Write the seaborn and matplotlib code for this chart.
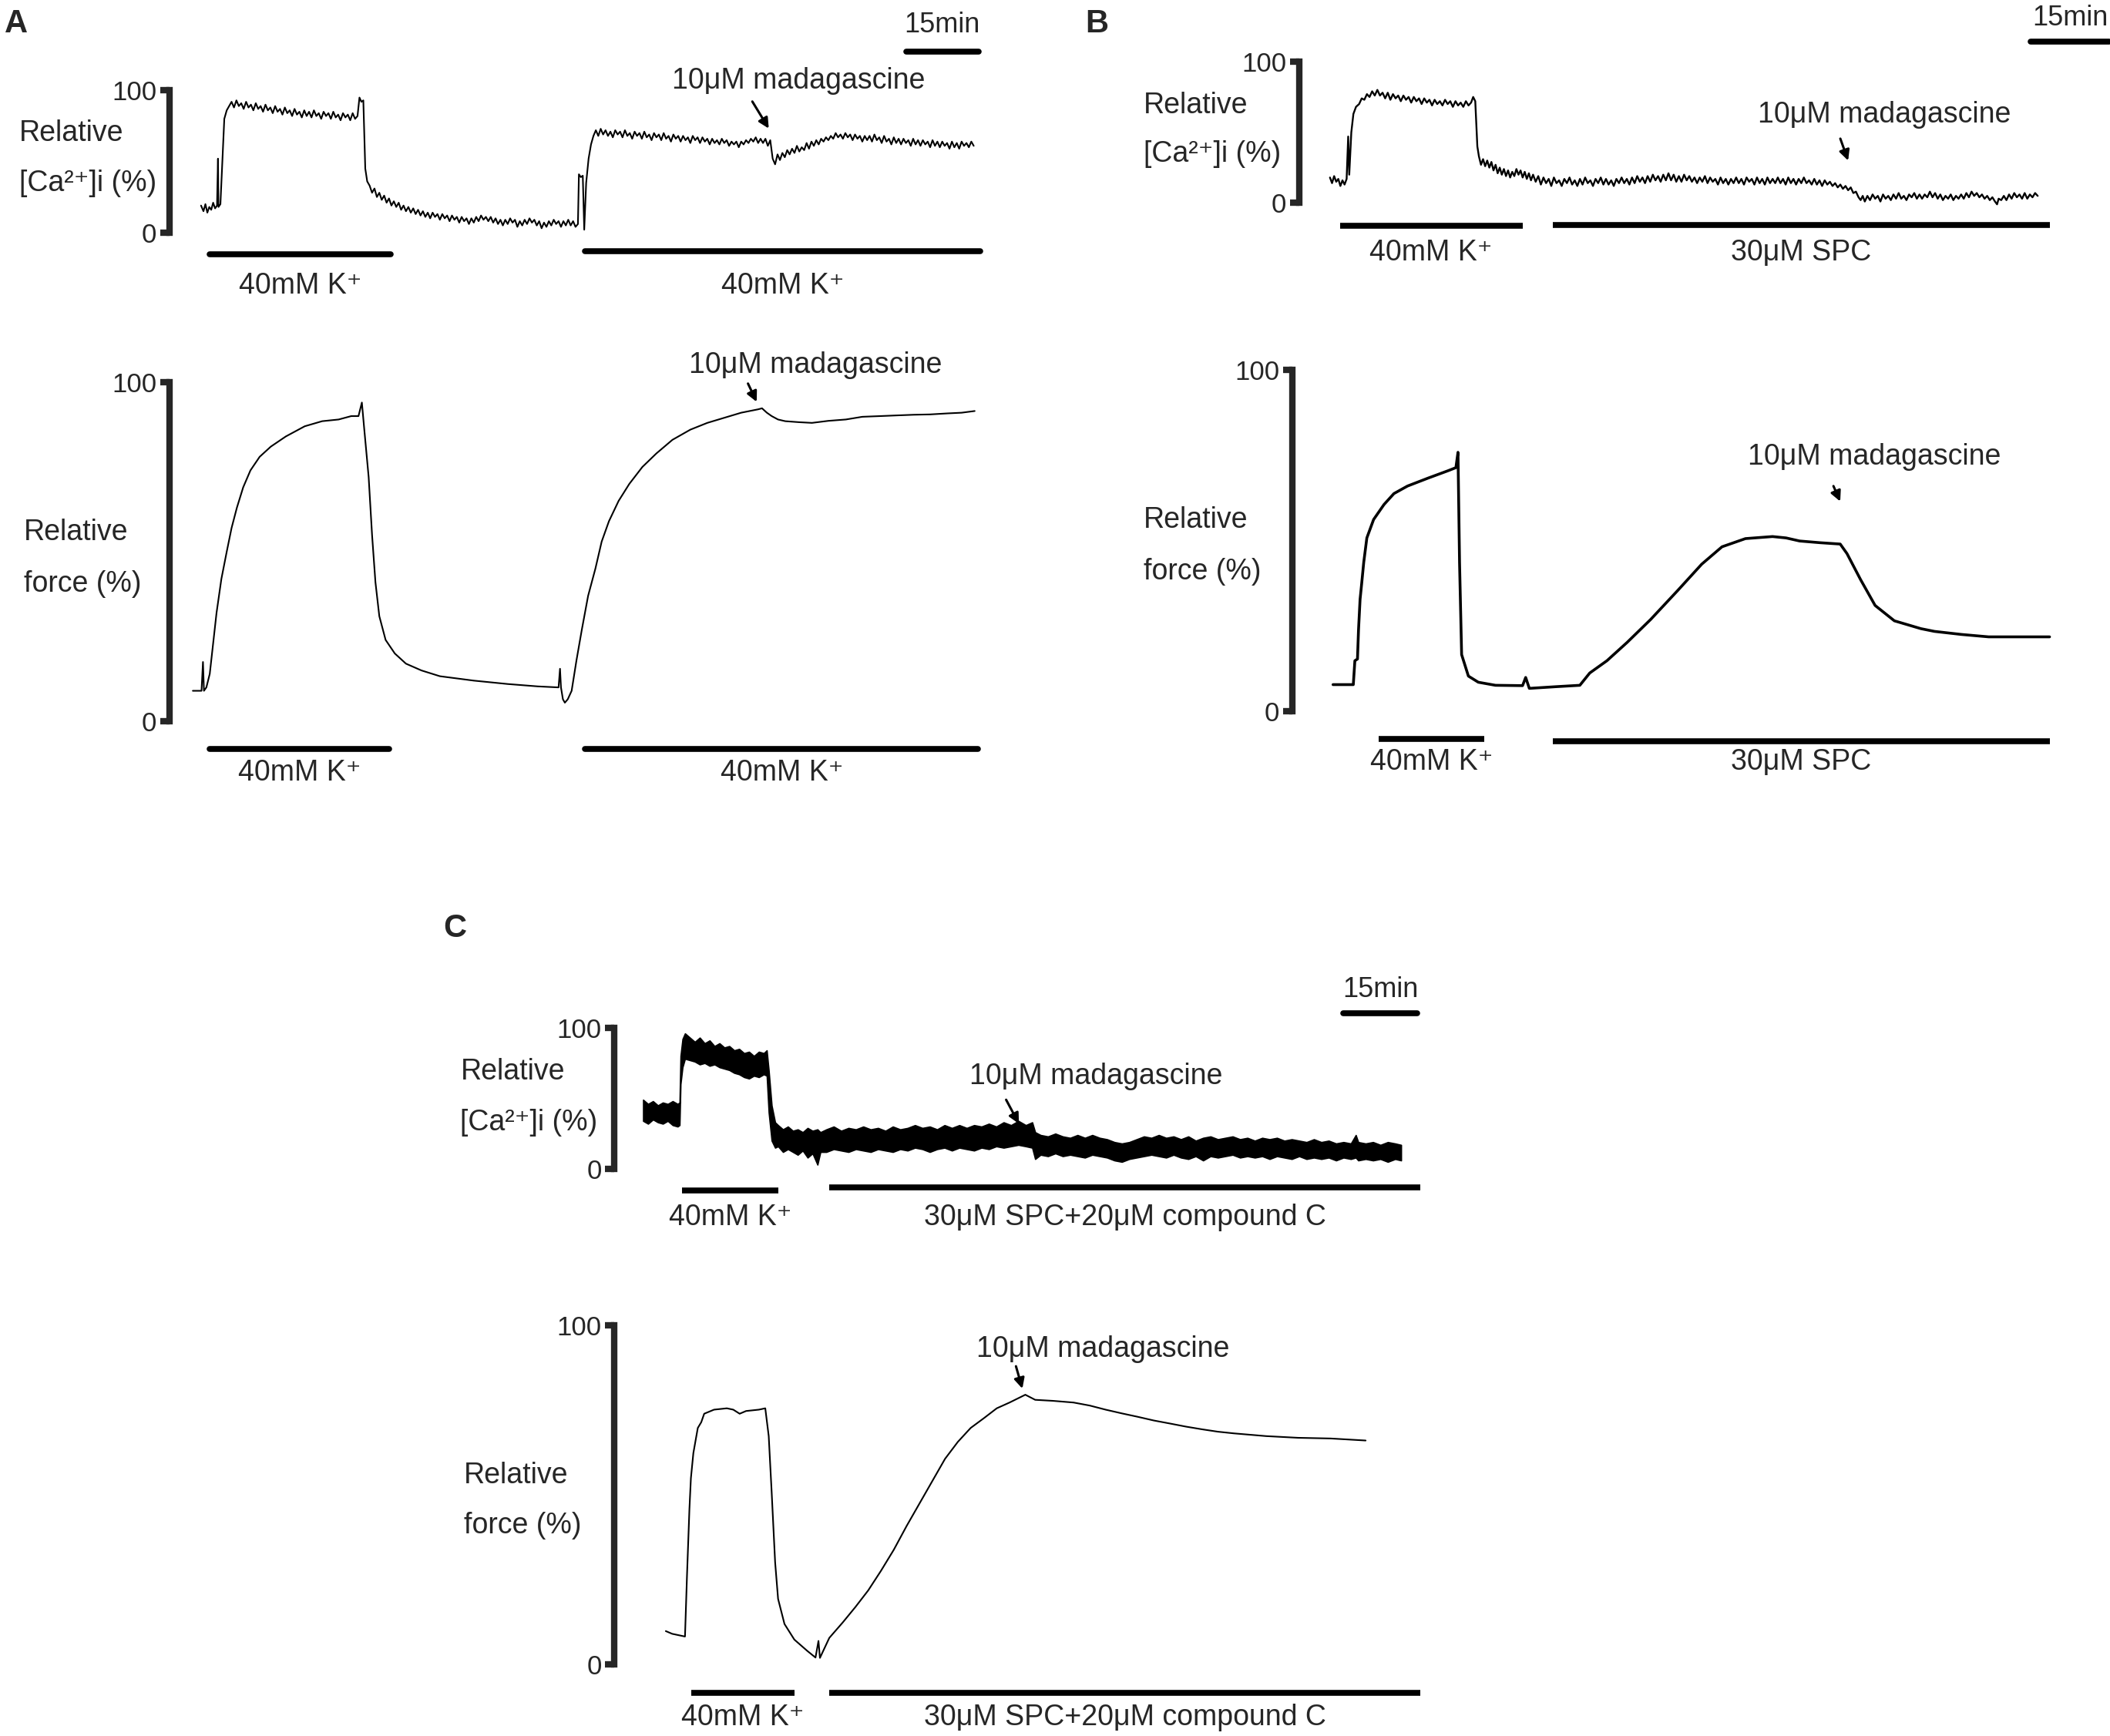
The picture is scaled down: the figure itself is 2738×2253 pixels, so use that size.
import numpy as np
import matplotlib
matplotlib.use("Agg")
import matplotlib.pyplot as plt
import seaborn as sns

sns.set_style("white")
plt.rcParams["font.family"] = ["Liberation Sans", "DejaVu Sans"]

# ==========================================
# data: (time in min, relative value in %)
# ==========================================
a_ca = [(6.5, 19), (7.0, 15), (7.4, 20), (7.8, 14), (8.2, 18), (8.6, 16), (9.0, 21), (9.4, 17), (9.8, 19),
        (10.0, 52), (10.1, 18), (10.5, 20), (10.9, 50), (11.3, 80), (11.8, 86), (12.3, 89), (12.8, 92),
        (13.3, 88), (13.8, 93), (14.3, 89), (14.8, 91), (15.3, 87), (15.8, 92), (16.3, 88), (16.8, 90),
        (17.3, 86), (17.8, 91), (18.3, 87), (18.8, 89), (19.3, 85), (19.8, 90), (20.3, 86), (20.8, 88),
        (21.3, 84), (21.8, 89), (22.3, 85), (22.8, 87), (23.3, 83), (23.8, 88), (24.3, 84), (24.8, 86),
        (25.3, 82), (25.8, 87), (26.3, 83), (26.8, 85), (27.3, 81), (27.8, 86), (28.3, 82), (28.8, 85),
        (29.3, 81), (29.8, 86), (30.3, 82), (30.8, 84), (31.3, 80), (31.8, 85), (32.3, 82), (32.8, 84),
        (33.3, 80), (33.8, 85), (34.3, 81), (34.8, 83), (35.3, 79), (35.8, 84), (36.3, 81), (36.8, 83),
        (37.3, 79), (37.8, 84), (38.3, 80), (38.8, 82), (39.2, 95), (39.6, 92), (40.0, 93),
        (40.4, 45), (40.8, 36), (41.3, 33), (41.8, 28), (42.3, 31), (42.8, 25), (43.3, 28), (43.8, 23),
        (44.3, 26), (44.8, 21), (45.3, 24), (45.8, 19), (46.3, 22), (46.8, 18), (47.3, 21), (47.8, 16),
        (48.3, 19), (48.8, 15), (49.3, 18), (49.8, 14), (50.3, 17), (50.8, 13), (51.3, 16), (51.8, 12),
        (52.3, 15), (52.8, 11), (53.3, 14), (53.8, 10), (54.3, 14), (54.8, 11), (55.3, 13), (55.8, 9),
        (56.3, 13), (56.8, 10), (57.3, 12), (57.8, 8), (58.3, 12), (58.8, 9), (59.3, 11), (59.8, 7),
        (60.3, 11), (60.8, 8), (61.3, 10), (61.8, 6), (62.3, 10), (62.8, 7), (63.3, 11), (63.8, 8),
        (64.3, 12), (64.8, 9), (65.3, 11), (65.8, 8), (66.3, 11), (66.8, 7), (67.3, 10), (67.8, 6),
        (68.3, 9), (68.8, 5), (69.3, 9), (69.8, 6), (70.3, 10), (70.8, 7), (71.3, 9), (71.8, 4),
        (72.3, 8), (72.8, 5), (73.3, 9), (73.8, 6), (74.3, 10), (74.8, 7), (75.3, 9), (75.8, 5),
        (76.3, 8), (76.8, 3), (77.3, 7), (77.8, 4), (78.3, 8), (78.8, 5), (79.3, 9), (79.8, 6),
        (80.3, 8), (80.8, 4), (81.3, 8), (81.8, 5), (82.3, 9), (82.8, 5), (83.3, 8), (83.8, 4),
        (84.3, 6), (84.5, 41), (84.9, 39), (85.3, 40), (85.6, 2), (86.0, 35), (86.5, 52), (87.0, 62),
        (87.5, 68), (88.0, 72), (88.5, 68), (89.0, 73), (89.5, 69), (90.0, 72), (90.5, 68), (91.0, 71),
        (91.5, 67), (92.0, 72), (92.5, 69), (93.0, 71), (93.5, 67), (94.0, 72), (94.5, 68), (95.0, 70),
        (95.5, 66), (96.0, 71), (96.5, 68), (97.0, 70), (97.5, 66), (98.0, 71), (98.5, 67), (99.0, 69),
        (99.5, 65), (100.0, 70), (100.5, 67), (101.0, 69), (101.5, 65), (102.0, 70), (102.5, 66),
        (103.0, 68), (103.5, 64), (104.0, 69), (104.5, 66), (105.0, 68), (105.5, 64), (106.0, 68),
        (106.5, 65), (107.0, 67), (107.5, 63), (108.0, 68), (108.5, 65), (109.0, 67), (109.5, 63),
        (110.0, 67), (110.5, 64), (111.0, 66), (111.5, 62), (112.0, 66), (112.5, 63), (113.0, 65),
        (113.5, 62), (114.0, 66), (114.5, 63), (115.0, 65), (115.5, 61), (116.0, 64), (116.5, 62),
        (117.0, 64), (117.5, 60), (118.0, 64), (118.5, 62), (119.0, 65), (119.5, 63), (120.0, 66),
        (120.5, 64), (121.0, 67), (121.5, 63), (122.0, 66), (122.5, 63), (123.0, 66), (123.5, 61),
        (124.0, 65), (124.5, 52), (125.0, 48), (125.5, 55), (126.0, 51), (126.5, 56), (127.0, 53),
        (127.5, 58), (128.0, 55), (128.5, 59), (129.0, 56), (129.5, 61), (130.0, 57), (130.5, 60),
        (131.0, 58), (131.5, 63), (132.0, 59), (132.5, 64), (133.0, 61), (133.5, 65), (134.0, 62),
        (134.5, 66), (135.0, 64), (135.5, 67), (136.0, 65), (136.5, 68), (137.0, 66), (137.5, 70),
        (138.0, 67), (138.5, 69), (139.0, 66), (139.5, 70), (140.0, 67), (140.5, 69), (141.0, 65),
        (141.5, 69), (142.0, 66), (142.5, 68), (143.0, 64), (143.5, 68), (144.0, 65), (144.5, 68),
        (145.0, 64), (145.5, 69), (146.0, 65), (146.5, 67), (147.0, 63), (147.5, 68), (148.0, 64),
        (148.5, 66), (149.0, 62), (149.5, 67), (150.0, 63), (150.5, 66), (151.0, 62), (151.5, 66),
        (152.0, 63), (152.5, 65), (153.0, 61), (153.5, 66), (154.0, 62), (154.5, 65), (155.0, 61),
        (155.5, 65), (156.0, 62), (156.5, 64), (157.0, 60), (157.5, 65), (158.0, 61), (158.5, 64),
        (159.0, 60), (159.5, 64), (160.0, 61), (160.5, 63), (161.0, 59), (161.5, 64), (162.0, 60),
        (162.5, 63), (163.0, 59), (163.5, 64), (164.0, 61), (164.5, 63), (165.0, 60), (165.5, 64),
        (166.0, 61)]

a_force = [(4.8, 9), (6.6, 9), (6.9, 17.5), (7.1, 9), (7.6, 10), (8.3, 14), (9.0, 23), (9.7, 32),
           (10.7, 42), (11.8, 50), (12.8, 57), (13.9, 63), (15.2, 69), (16.7, 74), (18.6, 78),
           (20.9, 81), (24.0, 84), (27.9, 87), (31.5, 88.5), (34.9, 89), (37.5, 90), (39.0, 90),
           (39.7, 94), (40.2, 86), (41.1, 72), (41.8, 55), (42.5, 41), (43.3, 31), (44.6, 24),
           (46.5, 20), (48.8, 17), (52.0, 15), (55.8, 13.3), (62.8, 12), (69.8, 11), (76.0, 10.3),
           (80.3, 10), (80.6, 15.5), (80.8, 10), (81.2, 6.5), (81.6, 5.5), (82.2, 6.5), (83.0, 9),
           (84.0, 18), (85.1, 27), (86.4, 37), (87.9, 45), (89.2, 53), (90.7, 59), (92.7, 65),
           (94.9, 70), (97.6, 75), (100.5, 79), (103.8, 83), (107.5, 86), (111.0, 88), (114.5, 89.5),
           (118.0, 91), (121.5, 92), (122.3, 92.3), (123.3, 91), (124.3, 90), (125.6, 89),
           (127.1, 88.5), (130.0, 88.2), (132.6, 88), (136.0, 88.6), (139.6, 89), (143.0, 89.8),
           (146.6, 90), (150.0, 90.2), (153.6, 90.4), (157.0, 90.5), (160.6, 90.8), (163.5, 91),
           (166.2, 91.5)]

b_ca = [(5.9, 18), (6.3, 14), (6.7, 19), (7.1, 15), (7.5, 17), (7.9, 12), (8.3, 16), (8.7, 13), (9.1, 17),
        (9.4, 47), (9.6, 20), (10.0, 50), (10.4, 63), (10.9, 68), (11.5, 70), (12.0, 74), (12.5, 73),
        (13.0, 77), (13.5, 75), (14.0, 79), (14.5, 76), (15.0, 80), (15.5, 76), (16.0, 78), (16.5, 74),
        (17.0, 78), (17.5, 73), (18.0, 77), (18.5, 74), (19.0, 76), (19.5, 72), (20.0, 76), (20.5, 73),
        (21.0, 75), (21.5, 71), (22.0, 75), (22.5, 72), (23.0, 74), (23.5, 70), (24.0, 74), (24.5, 71),
        (25.0, 73), (25.5, 69), (26.0, 73), (26.5, 70), (27.0, 72), (27.5, 69), (28.0, 73), (28.5, 70),
        (29.0, 72), (29.5, 68), (30.0, 72), (30.5, 69), (31.0, 71), (31.5, 68), (32.0, 72), (32.5, 69),
        (33.0, 71), (33.4, 75), (33.8, 72), (34.2, 40), (34.5, 33), (34.9, 27), (35.3, 31), (35.7, 26),
        (36.1, 30), (36.5, 25), (36.9, 29), (37.3, 23), (37.7, 27), (38.1, 21), (38.5, 25), (38.9, 20),
        (39.3, 24), (39.7, 19), (40.1, 23), (40.5, 18), (40.9, 22), (41.3, 19), (41.7, 24), (42.1, 20),
        (42.5, 23), (42.9, 18), (43.3, 22), (43.7, 17), (44.1, 21), (44.5, 16), (44.9, 20), (45.4, 15),
        (45.9, 19), (46.4, 13), (46.9, 18), (47.4, 14), (47.9, 17), (48.4, 12), (48.9, 18), (49.4, 14),
        (49.9, 16), (50.4, 12), (50.9, 17), (51.4, 14), (51.9, 18), (52.4, 13), (52.9, 16), (53.4, 12),
        (53.9, 17), (54.4, 13), (54.9, 18), (55.4, 14), (55.9, 16), (56.4, 12), (56.9, 17), (57.4, 14),
        (57.9, 18), (58.4, 13), (58.9, 17), (59.4, 13), (59.9, 16), (60.4, 12), (60.9, 17), (61.4, 14),
        (61.9, 18), (62.4, 14), (62.9, 17), (63.4, 13), (63.9, 18), (64.4, 14), (64.9, 19), (65.4, 15),
        (65.9, 18), (66.4, 14), (66.9, 19), (67.4, 15), (67.9, 20), (68.4, 16), (68.9, 19), (69.4, 15),
        (69.9, 20), (70.4, 16), (70.9, 21), (71.4, 16), (71.9, 20), (72.4, 15), (72.9, 19), (73.4, 15),
        (73.9, 20), (74.4, 16), (74.9, 19), (75.4, 15), (75.9, 18), (76.4, 14), (76.9, 18), (77.4, 15),
        (77.9, 19), (78.4, 14), (78.9, 18), (79.4, 15), (79.9, 17), (80.4, 13), (80.9, 18), (81.4, 14),
        (81.9, 17), (82.4, 13), (82.9, 17), (83.4, 14), (83.9, 18), (84.4, 14), (84.9, 17), (85.4, 13),
        (85.9, 18), (86.4, 15), (86.9, 17), (87.4, 13), (87.9, 18), (88.4, 14), (88.9, 17), (89.4, 13),
        (89.9, 18), (90.4, 14), (90.9, 17), (91.4, 14), (91.9, 18), (92.4, 14), (92.9, 17), (93.4, 13),
        (93.9, 18), (94.4, 14), (94.9, 17), (95.4, 13), (95.9, 17), (96.4, 14), (96.9, 18), (97.4, 14),
        (97.9, 16), (98.4, 13), (98.9, 17), (99.4, 13), (99.9, 16), (100.4, 12), (100.9, 16), (101.4, 13),
        (101.9, 15), (102.4, 12), (102.9, 14), (103.4, 11), (103.9, 13), (104.4, 10), (104.9, 12),
        (105.4, 9), (105.9, 11), (106.4, 7), (106.9, 8), (107.4, 4), (107.8, 2), (108.2, 5), (108.6, 1),
        (109.1, 5), (109.6, 2), (110.1, 6), (110.6, 3), (111.1, 5), (111.6, 1), (112.1, 6), (112.6, 3),
        (113.1, 5), (113.6, 2), (114.1, 6), (114.6, 3), (115.1, 7), (115.6, 3), (116.1, 5), (116.6, 2),
        (117.1, 6), (117.6, 4), (118.1, 7), (118.6, 3), (119.1, 6), (119.6, 3), (120.1, 6), (120.6, 4),
        (121.1, 8), (121.6, 4), (122.1, 7), (122.6, 3), (123.1, 6), (123.6, 2), (124.1, 5), (124.6, 3),
        (125.1, 6), (125.6, 2), (126.1, 5), (126.6, 3), (127.1, 6), (127.6, 3), (128.1, 7), (128.6, 4),
        (129.1, 8), (129.6, 5), (130.1, 7), (130.6, 4), (131.1, 6), (131.6, 3), (132.1, 5), (132.6, 2),
        (133.1, 4), (133.6, 1), (134.0, -1), (134.3, 3), (134.8, 2), (135.3, 5), (135.8, 2), (136.3, 6),
        (136.8, 3), (137.3, 7), (137.8, 4), (138.3, 6), (138.8, 3), (139.3, 7), (139.8, 3), (140.3, 6),
        (140.8, 4), (141.3, 7), (141.8, 5)]

b_force = [(7.8, 7.8), (11.7, 7.8), (12.0, 14.8), (12.5, 15.3), (12.7, 23.8), (13.0, 32.8), (13.3, 37.3),
           (13.7, 43.6), (14.3, 50.8), (15.6, 56.2), (17.6, 60.6), (19.5, 63.8), (22.1, 66), (26.0, 68.3),
           (29.9, 70.5), (31.4, 71.4), (31.8, 75.9), (32.1, 43.6), (32.5, 16.6), (33.8, 10.3), (35.7, 8.5),
           (39.0, 7.6), (44.2, 7.5), (44.8, 9.9), (45.5, 6.7), (50.7, 7.2), (55.2, 7.6), (57.1, 11.2),
           (60.4, 14.8), (64.3, 20.2), (68.8, 26.9), (74.0, 35.4), (78.6, 43.1), (82.5, 48.2), (87.0, 50.6),
           (92.2, 51.2), (94.8, 50.8), (97.4, 49.9), (101.3, 49.4), (105.2, 49), (106.5, 46.2),
           (109.1, 38.6), (111.9, 31.0), (115.6, 26.5), (120.7, 24.2), (123.3, 23.4), (128.5, 22.5),
           (133.7, 21.8), (138.9, 21.8), (145.4, 21.8)]

# Ca trace of panel C is a dense band: (time, upper edge, lower edge)
c_ca_band = [(5.8, 49, 34), (6.8, 46, 32), (7.8, 48, 35), (8.8, 45, 33), (9.8, 47, 32), (10.8, 46, 34),
             (11.8, 48, 31), (12.8, 46, 30), (13.2, 47, 31), (13.4, 80, 60), (13.8, 92, 72), (14.3, 96, 78),
             (15.3, 93, 77), (16.3, 90, 76), (17.3, 93, 74), (18.3, 89, 75), (19.3, 91, 73), (20.3, 87, 74),
             (21.3, 89, 72), (22.3, 86, 71), (23.3, 87, 70), (24.3, 84, 68), (25.3, 85, 67), (26.3, 82, 65),
             (27.3, 83, 64), (28.3, 80, 66), (29.3, 83, 65), (30.3, 82, 67), (30.9, 84, 66), (31.3, 70, 40),
             (31.9, 45, 20), (32.6, 33, 15), (33.2, 31, 16), (34.2, 28, 12), (35.2, 30, 14), (36.2, 27, 12),
             (37.2, 28, 10), (38.2, 26, 13), (39.2, 29, 8), (40.2, 27, 11), (41.2, 28, 3), (41.8, 26, 12),
             (43.0, 28, 12), (44.5, 30, 14), (46.0, 27, 13), (47.5, 29, 12), (49.0, 28, 14), (50.5, 30, 13),
             (52.0, 28, 12), (53.5, 29, 14), (55.0, 27, 13), (56.5, 30, 12), (58.0, 28, 14), (59.5, 29, 13),
             (61.0, 31, 15), (62.5, 29, 14), (64.0, 30, 12), (65.5, 28, 14), (67.0, 31, 15), (68.5, 29, 13),
             (70.0, 31, 15), (71.5, 29, 14), (73.0, 31, 13), (74.5, 30, 15), (76.0, 32, 14), (77.5, 30, 16),
             (79.0, 33, 15), (80.5, 31, 16), (82.0, 34, 17), (83.5, 31, 16), (84.8, 33, 15), (85.4, 26, 7),
             (86.5, 24, 10), (88.0, 23, 9), (89.5, 25, 11), (91.0, 23, 9), (92.5, 22, 10), (94.0, 24, 9),
             (95.5, 22, 8), (97.0, 24, 10), (98.5, 22, 9), (100.0, 21, 8), (101.5, 19, 6), (103.0, 18, 5),
             (104.5, 19, 7), (106.0, 21, 8), (107.5, 23, 9), (109.0, 22, 10), (110.5, 24, 9), (112.0, 22, 8),
             (113.5, 23, 10), (115.0, 21, 8), (116.5, 23, 7), (118.0, 20, 9), (119.5, 22, 6), (121.0, 23, 9),
             (122.5, 21, 8), (124.0, 22, 9), (125.5, 23, 10), (127.0, 21, 8), (128.5, 22, 9), (130.0, 20, 8),
             (131.5, 22, 9), (133.0, 21, 7), (134.5, 22, 9), (136.0, 20, 8), (137.5, 21, 7), (139.0, 20, 9),
             (140.5, 19, 7), (142.0, 21, 8), (143.5, 19, 7), (145.0, 20, 8), (146.5, 18, 6), (148.0, 19, 8),
             (149.5, 18, 7), (150.5, 24, 8), (151.0, 19, 6), (152.5, 18, 7), (154.0, 19, 6), (155.5, 17, 7),
             (157.0, 19, 5), (158.5, 18, 7), (159.7, 17, 6)]

c_force = [(10.4, 9.9), (11.7, 9.1), (13.0, 8.7), (14.3, 8.3), (14.7, 26), (15.2, 45.9), (15.5, 55),
           (16.0, 62.4), (16.4, 65.7), (16.9, 69.8), (17.6, 71.5), (18.2, 74), (20.2, 75.2), (22.8, 75.6),
           (24.1, 75.2), (25.4, 74), (26.7, 74.8), (29.3, 75.2), (30.6, 75.6), (31.3, 67.4), (31.9, 50.8),
           (32.6, 30.2), (33.2, 19.4), (34.5, 12), (36.5, 7.4), (39.1, 4.1), (40.8, 2.1), (41.4, 7),
           (41.7, 2), (43.6, 7.9), (46.3, 12.4), (48.9, 17.0), (51.5, 21.9), (54.1, 27.7), (56.7, 33.9),
           (59.3, 40.9), (61.9, 47.5), (64.5, 54.1), (67.1, 60.7), (69.7, 65.7), (72.3, 69.8), (75.0, 72.7),
           (77.6, 75.6), (80.2, 77.3), (83.4, 79.6), (85.4, 78.1), (89.0, 77.8), (93.2, 77.3), (96.5, 76.4),
           (99.7, 75.2), (103.0, 74.1), (106.2, 73.1), (109.5, 72.0), (112.8, 71.1), (116.0, 70.2),
           (119.3, 69.4), (122.5, 68.7), (125.8, 68.2), (132.3, 67.4), (138.8, 66.9), (145.4, 66.7),
           (152.5, 66.1)]

K = "40mM K⁺"
SPC = "30μM SPC"
SPC_C = "30μM SPC+20μM compound C"
MADA = "10μM madagascine"
CA_LABEL = "[Ca²⁺]i (%)"

# treatment bars: (start, end, label)
a_bars = [(8.3, 45.7, K), (85.8, 167.3, K)]
a_force_bars = [(8.3, 45.3, K), (85.8, 166.9, K)]
b_bars = [(7.8, 42.9, K), (48.7, 144.1, SPC)]
b_force_bars = [(16.6, 36.8, K), (50.0, 145.4, SPC)]
c_bars = [(13.7, 33.2, K), (43.6, 163.6, SPC_C)]
c_force_bars = [(15.6, 36.5, K), (43.6, 163.6, SPC_C)]

# madagascine marks: (text x, text y, arrow start x, y, arrow end x, y)
a_ca_mada = (129.8, 106.7, 120.3, 92.2, 123.7, 73.2)
a_force_mada = (133.3, 104.9, 119.4, 99.6, 121.2, 94.2)
b_ca_mada = (112.3, 62.5, 103.9, 45.5, 105.4, 30)
b_force_mada = (111.7, 74.6, 103.9, 66, 105.2, 61.5)
c_ca_mada = (97.8, 65.5, 79.5, 49, 82.1, 32)
c_force_mada = (99.1, 93, 81.5, 88, 82.8, 81.4)

# ==========================================
# layout helpers (positions in reference pixels, 1568 x 1290 view)
# ==========================================
W, H = 1568.0, 1290.0
FS = 27
fig = plt.figure(figsize=(27.38, 22.53), dpi=100)


def trace_axes(spine_x, top_y, bottom_y, px_per_min, xmax):
    width = xmax * px_per_min
    ax = fig.add_axes([spine_x / W, 1 - bottom_y / H, width / W, (bottom_y - top_y) / H])
    ax.set_xlim(0, xmax)
    ax.set_ylim(0, 100)
    ax.set_xticks([])
    ax.set_yticks([0, 100])
    ax.set_yticklabels(["0", "100"], fontsize=25)
    ax.tick_params(axis="y", length=9, width=6, direction="out", pad=3, left=True)
    sns.despine(ax=ax, bottom=True)
    ax.spines["left"].set_linewidth(6)
    ax.patch.set_alpha(0)
    return ax


def draw_trace(ax, pts, lw):
    arr = np.array(pts, dtype=float)
    sns.lineplot(x=arr[:, 0], y=arr[:, 1], ax=ax, sort=False, estimator=None,
                 color="black", linewidth=lw)
    for ln in ax.lines:
        ln.set_clip_on(False)
    ax.set_xlabel("")
    ax.set_ylabel("")


def draw_bars(ax, bars, bar_y, label_y, cap="butt"):
    for (t0, t1, label), y in zip(bars, bar_y):
        ax.plot([t0, t1], [y, y], color="black", lw=5.5, solid_capstyle=cap, clip_on=False)
        ax.text((t0 + t1) / 2, label_y, label, ha="center", va="center", fontsize=FS)


def ylabel(ax, x, y1, y2, second):
    ax.text(x, y1, "Relative", ha="left", va="center", fontsize=FS)
    ax.text(x, y2, second, ha="left", va="center", fontsize=FS)


def mada(ax, m):
    tx, ty, x0, y0, x1, y1 = m
    ax.text(tx, ty, MADA, ha="center", va="center", fontsize=FS)
    ax.annotate("", xy=(x1, y1), xytext=(x0, y0), annotation_clip=False,
                arrowprops=dict(arrowstyle="-|>", color="black", lw=2.2,
                                mutation_scale=20, shrinkA=0, shrinkB=0))


def scale_bar(ax, t0, y, ytxt):
    ax.plot([t0, t0 + 15], [y, y], color="black", lw=5.5, solid_capstyle="round", clip_on=False)
    ax.text(t0 + 7.5, ytxt, "15min", ha="center", va="center", fontsize=26)


# ---------- panel A ----------
ax = trace_axes(126, 67.2, 172.8, 3.6, 170)
draw_trace(ax, a_ca, 1.5)
draw_bars(ax, a_bars, [-15.4, -13], -37.5, cap="round")
ylabel(ax, -31.1, 69.6, 34.4, CA_LABEL)
mada(ax, a_ca_mada)
scale_bar(ax, 152, 127.5, 146)

ax = trace_axes(126, 284, 536, 3.6, 170)
draw_trace(ax, a_force, 1.5)
draw_bars(ax, a_force_bars, [-8.1, -8.1], -15.2, cap="round")
ylabel(ax, -30.1, 55.6, 40.4, "force (%)")
mada(ax, a_force_mada)

# ---------- panel B ----------
ax = trace_axes(965.5, 45.8, 150.8, 3.87, 155)
draw_trace(ax, b_ca, 1.7)
draw_bars(ax, b_bars, [-16, -15.5], -35.5)
ylabel(ax, -29.9, 69, 34.5, CA_LABEL)
mada(ax, b_ca_mada)
scale_bar(ax, 140.5, 114, 131)

ax = trace_axes(960.4, 275, 528.5, 3.87, 155)
draw_trace(ax, b_force, 2.6)
draw_bars(ax, b_force_bars, [-8.1, -8.7], -14.8)
ylabel(ax, -28.6, 56, 41, "force (%)")
mada(ax, b_force_mada)

# ---------- panel C ----------
ax = trace_axes(456.7, 763.7, 868.6, 3.66, 165)
band = np.array(c_ca_band, dtype=float)
ax.fill_between(band[:, 0], band[:, 2], band[:, 1], color="black", linewidth=1.2,
                edgecolor="black", clip_on=False)
draw_bars(ax, c_bars, [-15.5, -13], -34.5)
ylabel(ax, -31.3, 69, 33, CA_LABEL)
mada(ax, c_ca_mada)
scale_bar(ax, 148, 110, 127)

ax = trace_axes(456.7, 985, 1237, 3.66, 165)
draw_trace(ax, c_force, 1.5)
draw_bars(ax, c_force_bars, [-8.3, -8.3], -15.5)
ylabel(ax, -30.6, 55.8, 40.9, "force (%)")
mada(ax, c_force_mada)

# panel letters
for letter, x, y in [("A", 12, 18), ("B", 815, 18), ("C", 338, 690)]:
    fig.text(x / W, 1 - y / H, letter, ha="center", va="center", fontsize=30, fontweight="bold")

fig.savefig("out.png", dpi=100)
